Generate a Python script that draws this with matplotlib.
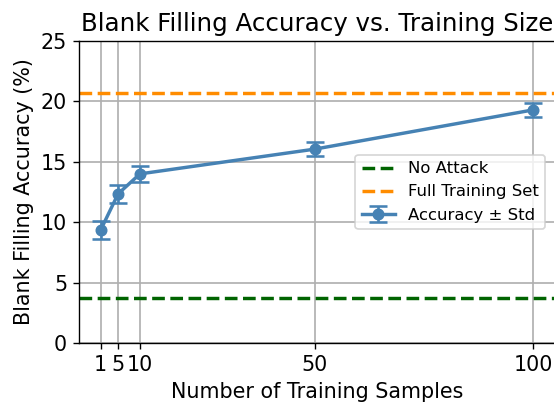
import matplotlib
matplotlib.use("Agg")
import matplotlib.pyplot as plt

samples = [1, 5, 10, 50, 100]
accuracy = [9.35, 12.35, 14.0, 16.05, 19.3]
std = [0.75, 0.72, 0.68, 0.55, 0.55]
no_attack = 3.7
full_training = 20.7

DPI = 123.4
fig = plt.figure(figsize=(554 / DPI, 405 / DPI), dpi=DPI)
ax = fig.add_axes([79 / 554, 62 / 405, 476 / 554, 302 / 405])

ax.axhline(no_attack, color="darkgreen", linestyle="--", linewidth=2, label="No Attack")
ax.axhline(full_training, color="darkorange", linestyle="--", linewidth=2, label="Full Training Set")
ax.errorbar(samples, accuracy, yerr=std, fmt="-o", color="steelblue", linewidth=2,
            markersize=6, capsize=5, capthick=1.5, elinewidth=1.5, label="Accuracy ± Std")

ax.set_ylim(0, 25)
ax.set_xticks(samples)
ax.set_xticklabels([str(s) for s in samples])
ax.tick_params(labelsize=12)
ax.grid(True, color="#b0b0b0", linewidth=1)
ax.set_axisbelow(True)
ax.set_xlabel("Number of Training Samples", fontsize=12)
ax.set_ylabel("Blank Filling Accuracy (%)", fontsize=12)
ax.set_title("Blank Filling Accuracy vs. Training Size", fontsize=14.3)
ax.legend(loc="center right", fontsize=9.6, bbox_to_anchor=(0.997, 0.5))

fig.savefig("out.png", dpi=DPI)
